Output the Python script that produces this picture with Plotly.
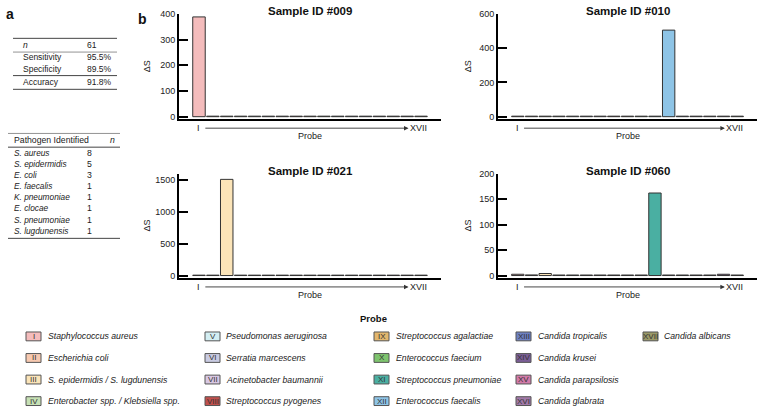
import plotly.graph_objects as go

W, H = 760, 410

# ---------------- data ----------------
probes = ["I", "II", "III", "IV", "V", "VI", "VII", "VIII", "IX", "X",
          "XI", "XII", "XIII", "XIV", "XV", "XVI", "XVII"]
species = ["Staphylococcus aureus", "Escherichia coli", "S. epidermidis / S. lugdunensis",
           "Enterobacter spp. / Klebsiella spp.", "Pseudomonas aeruginosa",
           "Serratia marcescens", "Acinetobacter baumannii", "Streptococcus pyogenes",
           "Streptococcus agalactiae", "Enterococcus faecium", "Streptococcus pneumoniae",
           "Enterococcus faecalis", "Candida tropicalis", "Candida krusei",
           "Candida parapsilosis", "Candida glabrata", "Candida albicans"]
probe_colors = ["#f4bcbc", "#f7c9b0", "#fbe4b8", "#c6e0b4", "#d3eef3", "#c9cbe2",
                "#d9c8e3", "#c0504d", "#e2b76e", "#7ec46e", "#4aafa2", "#8ec4e6",
                "#6d80c2", "#7b5e96", "#d27aa9", "#a27aa8", "#9b9a68"]

sample_ids = ["Sample ID #009", "Sample ID #010", "Sample ID #021", "Sample ID #060"]
ds_009 = [388, 2, 2, 2, 2, 2, 2, 2, 2, 2, 2, 2, 2, 2, 2, 2, 2]
ds_010 = [3, 3, 3, 3, 3, 3, 3, 3, 3, 3, 3, 505, 3, 3, 3, 3, 3]
ds_021 = [6, 6, 1510, 6, 6, 6, 6, 6, 6, 6, 6, 6, 6, 6, 6, 6, 6]
ds_060 = [2.5, 1.2, 4, 1, 1, 1, 1, 1, 1, 1, 162, 1, 1, 1, 1, 2.5, 1]
sample_values = [ds_009, ds_010, ds_021, ds_060]
y_tickvals = [[0, 100, 200, 300, 400], [0, 200, 400, 600],
              [0, 500, 1000, 1500], [0, 50, 100, 150, 200]]
y_tops = [400, 600, 1600, 200]

stat_labels = ["n", "Sensitivity", "Specificity", "Accuracy"]
stat_values = ["61", "95.5%", "89.5%", "91.8%"]
pathogens = ["S. aureus", "S. epidermidis", "E. coli", "E. faecalis",
             "K. pneumoniae", "E. clocae", "S. pneumoniae", "S. lugdunensis"]
pathogen_counts = [8, 5, 3, 1, 1, 1, 1, 1]

# ---------------- helpers ----------------
def px(x):
    return x / W

def py(y):
    return 1 - y / H

FONT = "Arial, Liberation Sans, Helvetica, sans-serif"
TXT = "#222222"

fig = go.Figure()
annotations = []
shapes = []

# panel geometry (pixels)
x_doms = [(179, 441), (498, 757), (179, 441), (498, 757)]
y_doms = [(116, 9), (116, 9), (278, 172), (278, 172)]
x_range = [-1.44, 17.44]

for i in range(4):
    n = "" if i == 0 else str(i + 1)
    xa, ya = "x" + n, "y" + n
    fig.add_trace(go.Bar(
        x=probes, y=sample_values[i], xaxis=xa, yaxis=ya,
        marker=dict(color=probe_colors, line=dict(color="#333333", width=1)),
        width=0.9, showlegend=False, hoverinfo="x+y"))
    x0, x1 = x_doms[i]
    yb, yt = y_doms[i]
    top = y_tops[i]
    fig.update_layout(**{
        ("xaxis" + n): dict(domain=[px(x0), px(x1)], anchor=ya, range=x_range,
                            type="category", showticklabels=False, ticks="",
                            showline=True, linewidth=2, linecolor="black",
                            showgrid=False, zeroline=False, fixedrange=True),
        ("yaxis" + n): dict(domain=[py(yb), py(yt)], anchor=xa,
                            range=[-0.02 * top, top], tickvals=y_tickvals[i],
                            ticks="inside", ticklen=9, tickwidth=2, tickcolor="black",
                            showline=True, linewidth=2, linecolor="black",
                            showgrid=False, zeroline=False,
                            tickfont=dict(size=9, color=TXT, family=FONT)),
    })
    # title
    annotations.append(dict(text="<b>" + sample_ids[i] + "</b>", xref="paper", yref="paper",
                            x=px((x0 + x1) / 2), y=py(yt - 3), xanchor="center",
                            yanchor="middle", showarrow=False,
                            font=dict(size=11.5, color="#111", family=FONT)))
    # ΔS label
    annotations.append(dict(text="ΔS", xref="paper", yref="paper",
                            x=px(147 if i % 2 == 0 else 468), y=py((yb + yt) / 2),
                            textangle=-90, showarrow=False, xanchor="center",
                            yanchor="middle", font=dict(size=9, color=TXT, family=FONT)))
    # probe arrow
    annotations.append(dict(text="", xref=xa, yref=ya + " domain", x=15.1, y=-0.09,
                            axref=xa, ayref=ya + " domain", ax=0.35, ay=-0.09,
                            showarrow=True, arrowhead=2, arrowsize=1, arrowwidth=0.9,
                            arrowcolor="#333", standoff=0, startstandoff=0))
    annotations.append(dict(text=probes[0], xref=xa, yref=ya + " domain", x=0, y=-0.09,
                            showarrow=False, xanchor="center", yanchor="middle",
                            font=dict(size=9, color=TXT, family=FONT)))
    annotations.append(dict(text=probes[-1], xref=xa, yref=ya + " domain", x=16.55, y=-0.09,
                            showarrow=False, xanchor="right", yanchor="middle",
                            font=dict(size=9, color=TXT, family=FONT)))
    annotations.append(dict(text="Probe", xref=xa + " domain", yref=ya + " domain",
                            x=0.5, y=-0.165, showarrow=False, xanchor="center",
                            yanchor="middle", font=dict(size=9, color=TXT, family=FONT)))

# panel letters
annotations.append(dict(text="<b>a</b>", xref="paper", yref="paper", x=px(4), y=py(9),
                        xanchor="left", yanchor="middle", showarrow=False,
                        font=dict(size=14, color="#111", family=FONT)))
annotations.append(dict(text="<b>b</b>", xref="paper", yref="paper", x=px(136), y=py(14),
                        xanchor="left", yanchor="middle", showarrow=False,
                        font=dict(size=14, color="#111", family=FONT)))

# ---------------- table 1 ----------------
def hline(x0, x1, y, color="#444", width=1):
    shapes.append(dict(type="line", xref="paper", yref="paper", x0=px(x0), x1=px(x1),
                       y0=py(y), y1=py(y), line=dict(color=color, width=width)))

hline(13, 117, 34)
hline(13, 117, 48, color="#777", width=0.8)
hline(13, 117, 72)
hline(13, 117, 86)
stat_rows_y = [41, 53, 65, 79]
for lab, val, yy in zip(stat_labels, stat_values, stat_rows_y):
    t = "<i>" + lab + "</i>" if lab == "n" else lab
    annotations.append(dict(text=t, xref="paper", yref="paper", x=px(21), y=py(yy),
                            xanchor="left", yanchor="middle", showarrow=False,
                            font=dict(size=8.5, color=TXT, family=FONT)))
    annotations.append(dict(text=val, xref="paper", yref="paper", x=px(85), y=py(yy),
                            xanchor="left", yanchor="middle", showarrow=False,
                            font=dict(size=8.5, color=TXT, family=FONT)))

# ---------------- table 2 ----------------
hline(8, 120, 131, color="#777", width=0.8)
hline(8, 120, 145)
hline(8, 120, 238)
annotations.append(dict(text="Pathogen Identified", xref="paper", yref="paper", x=px(12),
                        y=py(138), xanchor="left", yanchor="middle", showarrow=False,
                        font=dict(size=8.7, color=TXT, family=FONT)))
annotations.append(dict(text="<i>n</i>", xref="paper", yref="paper", x=px(113),
                        y=py(138), xanchor="center", yanchor="middle", showarrow=False,
                        font=dict(size=8.7, color=TXT, family=FONT)))
row_y0, row_dy = 150.5, 11.4
for k, (name, cnt) in enumerate(zip(pathogens, pathogen_counts)):
    yy = row_y0 + k * row_dy
    annotations.append(dict(text="<i>" + name + "</i>", xref="paper", yref="paper",
                            x=px(12), y=py(yy), xanchor="left", yanchor="middle",
                            showarrow=False, font=dict(size=8.3, color=TXT, family=FONT)))
    annotations.append(dict(text=str(cnt), xref="paper", yref="paper",
                            x=px(89), y=py(yy), xanchor="center", yanchor="middle",
                            showarrow=False, font=dict(size=8.7, color=TXT, family=FONT)))

# ---------------- probe legend ----------------
annotations.append(dict(text="<b>Probe</b>", xref="paper", yref="paper", x=px(373),
                        y=py(320), xanchor="center", yanchor="middle", showarrow=False,
                        font=dict(size=9.5, color="#111", family=FONT)))
col_swatch_x = [26, 205, 374, 516, 643]
col_text_x = [46, 224, 394, 536, 662]
row_y = [338, 360, 382, 404]
for k, (num, name, col) in enumerate(zip(probes, species, probe_colors)):
    c, r = divmod(k, 4)
    sx, yy = col_swatch_x[c], row_y[r]
    shapes.append(dict(type="rect", xref="paper", yref="paper",
                       x0=px(sx), x1=px(sx + 15), y0=py(yy + 4.5), y1=py(yy - 4.5),
                       fillcolor=col, line=dict(color="#555", width=1)))
    annotations.append(dict(text=num, xref="paper", yref="paper", x=px(sx + 7.5),
                            y=py(yy), xanchor="center", yanchor="middle", showarrow=False,
                            font=dict(size=8, color="#333", family=FONT)))
    annotations.append(dict(text="<i>" + name + "</i>", xref="paper", yref="paper",
                            x=px(col_text_x[c]), y=py(yy), xanchor="left",
                            yanchor="middle", showarrow=False,
                            font=dict(size=8.7, color=TXT, family=FONT)))

fig.update_layout(width=W, height=H, margin=dict(l=0, r=0, t=0, b=0),
                  paper_bgcolor="white", plot_bgcolor="white",
                  annotations=annotations, shapes=shapes, bargap=0.1,
                  font=dict(family=FONT, color=TXT))
fig.write_html("out.html", config={"displayModeBar": False},
               post_script="document.body.style.margin='0';document.body.style.padding='0';")
